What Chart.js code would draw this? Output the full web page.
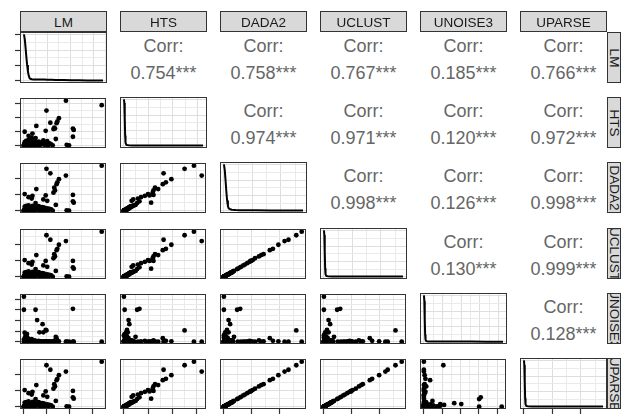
<!DOCTYPE html>
<html>
<head>
<meta charset="utf-8">
<script src="https://cdn.jsdelivr.net/npm/chart.js@4.4.0/dist/chart.umd.min.js"></script>
<style>
  body { margin: 0; background: #fff; width: 625px; height: 417px; overflow: hidden; position: relative;
         font-family: "Liberation Sans", Arial, sans-serif; }
  canvas { position: absolute; }
  .strip { position: absolute; background: #D9D9D9; border: 1px solid #333; box-sizing: border-box;
           color: #1a1a1a; font-size: 13.5px; overflow: hidden; }
  .strip span { position: absolute; left: 50%; top: 50%; white-space: nowrap; transform: translate(-50%, -50%); }
  .strip.right span { transform: translate(-50%, -50%) rotate(90deg); }
  .corr { position: absolute; width: 87px; height: 22px; line-height: 22px; text-align: center;
          color: #666; font-size: 18px; white-space: nowrap; }
</style>
</head>
<body>
<script>
// variables, in panel order
const varNames = ['LM', 'HTS', 'DADA2', 'UCLUST', 'UNOISE3', 'UPARSE'];

// one value per sample (each variable scaled 0..100)
const lm      = [100,29,34,54,45,43,42,39,40,38,16,1,6,10,11,25,28,30,63,63,64,41,55,58,0,0,15,17,24,20,25,28,
                 0,1,2,3,4,5,6,7,8,9,10,11,12,13,14,15,16,18,19,21,22,23,26,27,30,31,33,35,37,
                 2,3,1,5,6,8,4,9,12,14,20,0,1];
const hts     = [90,78,51,100,61,54,50,40,38,37,44,31,22,18,27,12,33,10,38,20,35,15,2,1,0,1,17,6,7,5,3,4,
                 2,8,4,11,1,6,13,3,9,5,2,12,7,4,10,1,6,3,9,2,7,4,8,2,6,1,5,3,1,
                 1,0,3,2,0,1,5,0,2,0,1,0,0];
const dada2   = [100,93,83,78,70,63,59,51,45,40,48,37,30,27,33,25,34,22,35,21,18,13,1,0,0,0,17,6,8,6,2,4,
                 1,9,3,11,1,5,12,2,8,6,1,11,7,3,9,2,5,4,10,1,8,3,7,2,5,1,4,3,0,
                 0,0,2,1,0,1,4,0,2,0,0,0,1];
const uclust  = [100,92,82,79,71,62,59,50,45,41,48,37,30,27,33,25,35,22,35,21,18,13,1,0,0,0,17,6,8,6,2,4,
                 1,9,3,10,1,5,12,2,8,6,1,11,7,3,9,2,5,4,10,1,8,3,7,2,5,1,4,3,0,
                 0,0,2,1,0,1,4,0,2,0,0,0,1];
const unoise3 = [0,25,0,0,1,2,8,1,3,0,0,0,1,0,2,0,1,0,0,73,0,11,0,0,100,71,71,48,39,21,21,26,
                 5,3,12,2,17,8,1,4,0,2,6,0,1,0,3,0,1,0,2,0,1,0,1,0,0,1,0,0,0,
                 9,14,20,0,2,0,1,0,0,1,0,0,1];
const uparse  = [100,92,82,78,70,62,59,50,45,40,48,37,30,27,33,25,34,22,35,21,18,13,1,0,0,0,17,6,8,6,2,4,
                 1,9,3,10,1,5,12,2,8,6,1,11,7,3,9,2,5,4,10,1,8,3,7,2,5,1,4,3,0,
                 0,0,2,1,0,1,4,0,2,0,0,0,1];

// diagonal density curves (x in variable units, density scaled so the peak is 100)
const lmDensX  = [0,1,2,3,4,5,6,7,8,10,12,15,20,25,30,35,40,50,60,70,80,90,100];
const lmDensY  = [100,90,72,52,34,20,11,6,4,3,2.8,2.6,2.8,2.4,2,1.8,1.6,1.5,1.2,0.9,0.6,0.5,0.4];
const htsDensX = [0,0.5,1,1.5,2,3,4,6,10,20,40,60,80,100];
const htsDensY = [100,92,60,22,6,2,1.2,0.8,0.6,0.5,0.4,0.3,0.2,0.2];
const dadaDensX = [0,1,2,3,4,5,6,8,10,15,20,30,40,60,80,100];
const dadaDensY = [100,88,66,42,22,10,5,3,2,1.5,1.2,1,0.8,0.6,0.5,0.4];
const ucDensX  = [0,0.5,1,1.5,2,3,5,10,20,40,60,80,100];
const ucDensY  = [100,90,55,18,5,1.5,0.8,0.5,0.4,0.3,0.2,0.2,0.2];
const unDensX  = [0,0.5,1,1.5,2,3,5,10,20,40,60,80,100];
const unDensY  = [100,88,50,15,4,1.2,0.6,0.4,0.3,0.2,0.2,0.1,0.1];
const upDensX  = [0,0.5,1,1.5,2,3,5,10,20,40,60,80,100];
const upDensY  = [100,90,55,18,5,1.5,0.8,0.5,0.4,0.3,0.2,0.2,0.2];

// major tick positions of each variable's axis
const lmTicks   = [0, 29.5, 59, 88.5];
const htsTicks  = [0, 31, 62, 93];
const dadaTicks = [0, 36, 72];
const ucTicks   = [0, 36, 72];
const unTicks   = [0, 23.5, 47, 70.5, 94];
const upTicks   = [0, 36, 72];
const densTicks = [0, 33, 66, 99];

// correlations shown in the upper triangle (row by row)
const corrLM     = [0.754, 0.758, 0.767, 0.185, 0.766];
const corrHTS    = [0.974, 0.971, 0.120, 0.972];
const corrDADA2  = [0.998, 0.126, 0.998];
const corrUCLUST = [0.130, 0.999];
const corrUNOISE3 = [0.128];

const values = [lm, hts, dada2, uclust, unoise3, uparse];
const densities = [[lmDensX, lmDensY], [htsDensX, htsDensY], [dadaDensX, dadaDensY],
                   [ucDensX, ucDensY], [unDensX, unDensY], [upDensX, upDensY]];
const varTicks = [lmTicks, htsTicks, dadaTicks, ucTicks, unTicks, upTicks];
const corrRows = [corrLM, corrHTS, corrDADA2, corrUCLUST, corrUNOISE3];

// layout
const colLeft = [20, 120, 220, 320, 420, 520];
const rowTop = [32, 97, 162, 228, 293, 358];
const PW = 87, PH = 51;

const panelBorder = {
  id: 'panelBorder',
  afterDraw(chart) {
    const { ctx, chartArea: a } = chart;
    ctx.save();
    ctx.strokeStyle = '#333';
    ctx.lineWidth = 1;
    ctx.strokeRect(Math.round(a.left) + 0.5, Math.round(a.top) + 0.5, Math.round(a.width) - 1, Math.round(a.height) - 1);
    ctx.restore();
  }
};

function scaleOpts(majors, outer, axis) {
  const step = majors[1] - majors[0];
  const lines = majors.flatMap(v => [v, v + step / 2]).filter(v => v < 104);
  return {
    type: 'linear', min: -5, max: 105,
    afterBuildTicks: s => { s.ticks = lines.map(v => ({ value: v })); },
    afterFit: s => { if (axis === 'x') s.height = 6; else s.width = 6; },
    ticks: { display: false },
    border: { display: false },
    grid: {
      color: c => (c.tick && majors.includes(c.tick.value)) ? '#DEDEDE' : '#EAEAEA',
      lineWidth: 1,
      drawTicks: true, tickLength: 5, tickWidth: 1.2,
      tickColor: c => (outer && c.tick && majors.includes(c.tick.value)) ? '#333' : 'rgba(0,0,0,0)'
    }
  };
}

function makePanel(row, col, datasets, yTicks) {
  const cv = document.createElement('canvas');
  cv.width = PW + 7; cv.height = PH + 7;
  cv.style.left = (colLeft[col] - 6) + 'px';
  cv.style.top = (rowTop[row] - 1) + 'px';
  document.body.appendChild(cv);
  new Chart(cv, {
    type: 'scatter',
    data: { datasets: datasets },
    options: {
      responsive: false, animation: false, devicePixelRatio: 1, events: [],
      layout: { padding: { top: 1, right: 1, left: 0, bottom: 0 } },
      plugins: { legend: { display: false }, tooltip: { enabled: false } },
      scales: {
        x: scaleOpts(varTicks[col], row === 5, 'x'),
        y: scaleOpts(yTicks, col === 0, 'y')
      }
    },
    plugins: [panelBorder]
  });
}

for (let r = 0; r < 6; r++) {
  for (let c = 0; c < 6; c++) {
    if (r > c) {
      makePanel(r, c, [{
        data: values[c].map((x, i) => ({ x: x, y: values[r][i] })),
        pointRadius: 2.4, pointBackgroundColor: '#000', pointBorderWidth: 0, pointHoverRadius: 0
      }], varTicks[r]);
    } else if (r === c) {
      const [dx, dy] = densities[c];
      makePanel(r, c, [{
        data: dx.map((x, i) => ({ x: x, y: dy[i] })),
        showLine: true, pointRadius: 0, borderColor: '#000', borderWidth: 2
      }], densTicks);
    } else {
      const v = corrRows[r][c - r - 1];
      const t1 = document.createElement('div');
      t1.className = 'corr';
      t1.style.left = colLeft[c] + 'px';
      t1.style.top = (rowTop[r] + 14 - 11) + 'px';
      t1.textContent = 'Corr:';
      const t2 = document.createElement('div');
      t2.className = 'corr';
      t2.style.left = colLeft[c] + 'px';
      t2.style.top = (rowTop[r] + 41 - 11) + 'px';
      t2.textContent = v.toFixed(3) + '***';
      document.body.appendChild(t1);
      document.body.appendChild(t2);
    }
  }
}

// strips
varNames.forEach((name, i) => {
  const top = document.createElement('div');
  top.className = 'strip';
  Object.assign(top.style, { left: colLeft[i] + 'px', top: '11px', width: PW + 'px', height: '21px' });
  top.innerHTML = '<span></span>';
  top.firstChild.textContent = name;
  document.body.appendChild(top);

  const right = document.createElement('div');
  right.className = 'strip right';
  Object.assign(right.style, { left: '607px', top: rowTop[i] + 'px', width: '14px', height: PH + 'px' });
  right.innerHTML = '<span></span>';
  right.firstChild.textContent = name;
  document.body.appendChild(right);
});
</script>
</body>
</html>
